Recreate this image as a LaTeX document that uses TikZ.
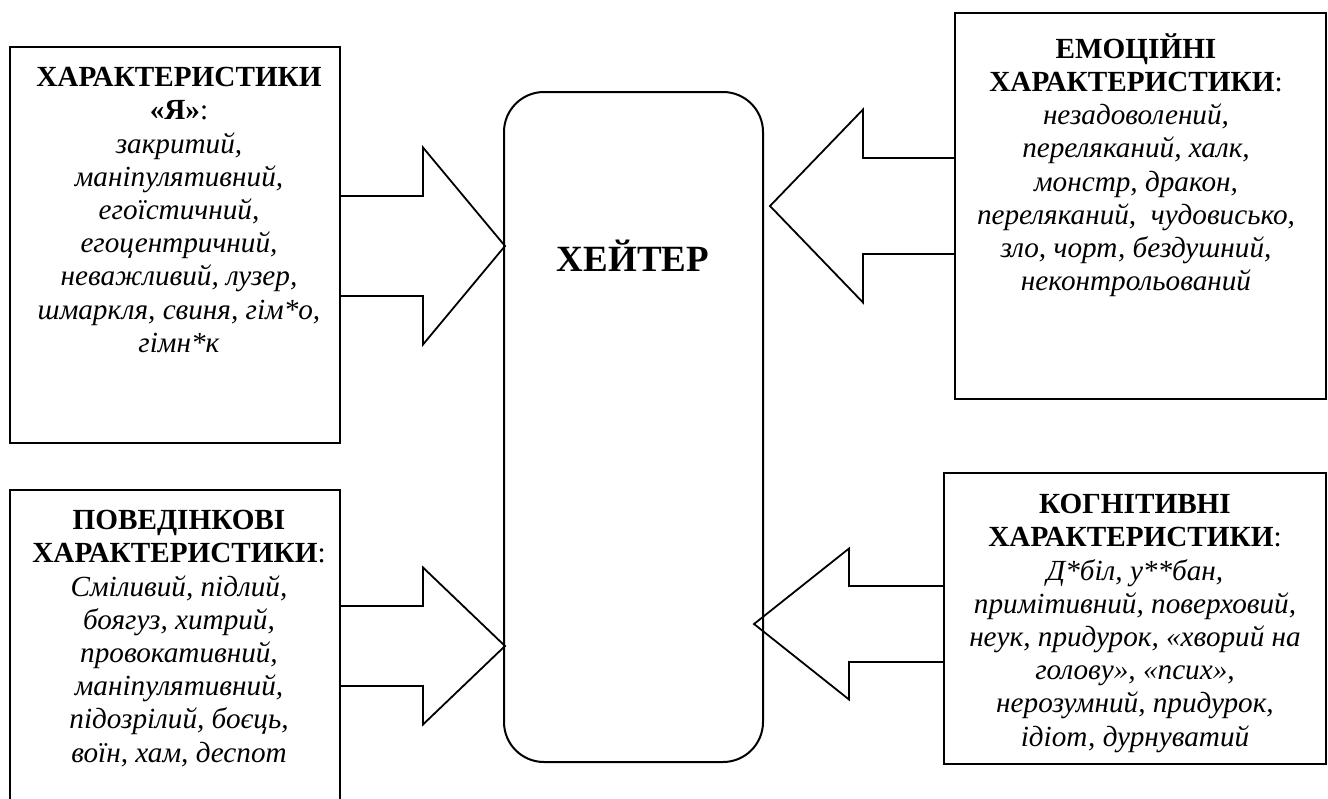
\documentclass[tikz,border=0pt]{standalone}
\usepackage{fontspec}
\setmainfont{Liberation Serif}
\usetikzlibrary{positioning}
\tikzstyle{charbox}=[draw,line width=1pt,inner sep=0pt]
\tikzstyle{hater}=[draw,line width=1pt,rounded corners=20pt,inner sep=0pt,minimum width=129.5pt,minimum height=335pt]
\tikzstyle{boxtext}=[align=center,inner sep=0pt,anchor=north,font=\fontsize{14.6}{16.6}\selectfont]
\tikzstyle{blockarrow}=[draw,line width=0.9pt,line join=miter]

\begin{document}
\begin{tikzpicture}[x=0.5pt,y=-0.5pt]

    \useasboundingbox (0,0) rectangle (1328,798);
    \clip (0,0) rectangle (1328,798);

     \foreach \x/\y/\w/\h/\name in {175/245/165/198/ya, 1140.5/206/185.5/193/emo, 175/660/165/170/beh, 1135/618.5/191/145.5/cog}
        \node[charbox, minimum width=\w pt, minimum height=\h pt] (\name) at (\x,\y) {};

    \node[hater] (hater) at (633.5,427) {};
    \node[font=\fontsize{18.5}{22}\selectfont\bfseries, anchor=base] (haterlabel) at (633,271) {ХЕЙТЕР};

    \node[boxtext] (yatext) at (179,67) {\textbf{ХАРАКТЕРИСТИКИ}\\ \textbf{«Я»}:\\
        \textit{закритий,}\\ \textit{маніпулятивний,}\\ \textit{егоїстичний,}\\
        \textit{егоцентричний,}\\ \textit{неважливий, лузер,}\\
        \textit{шмаркля, свиня, гім*о,}\\ \textit{гімн*к}};

    \node[boxtext] (emotext) at (1136,33) {\textbf{ЕМОЦІЙНІ}\\ \textbf{ХАРАКТЕРИСТИКИ}:\\
        \textit{незадоволений,}\\ \textit{переляканий, халк,}\\ \textit{монстр, дракон,}\\
        \textit{переляканий,\ \ чудовисько,}\\ \textit{зло, чорт, бездушний,}\\
        \textit{неконтрольований}};

    \node[boxtext] (behtext) at (179,510) {\textbf{ПОВЕДІНКОВІ}\\ \textbf{ХАРАКТЕРИСТИКИ}:\\
        \textit{Сміливий, підлий,}\\ \textit{боягуз, хитрий,}\\ \textit{провокативний,}\\
        \textit{маніпулятивний,}\\ \textit{підозрілий, боєць,}\\ \textit{воїн, хам, деспот}};

    \node[boxtext] (cogtext) at (1135,494) {\textbf{КОГНІТИВНІ}\\ \textbf{ХАРАКТЕРИСТИКИ}:\\
        \textit{Д*біл, у**бан,}\\ \textit{примітивний, поверховий,}\\
        \textit{неук, придурок, «хворий на}\\ \textit{голову», «псих»,}\\
        \textit{нерозумний, придурок,}\\ \textit{ідіот, дурнуватий}};

    % block arrows: tail x / head base x / tip x / mid y / half shaft / half head
    \foreach \xa/\xb/\xc/\ym/\sh/\hh in {340/423/505/246/50/98.5, 340/423/505/646/40/78.5, 955/863/770/206/48/96.5, 944/849/754/624/38/75.5}
        \path[blockarrow] (\xa,\ym-\sh) -- (\xb,\ym-\sh) -- (\xb,\ym-\hh) -- (\xc,\ym) -- (\xb,\ym+\hh) -- (\xb,\ym+\sh) -- (\xa,\ym+\sh);

\end{tikzpicture}
\end{document}
